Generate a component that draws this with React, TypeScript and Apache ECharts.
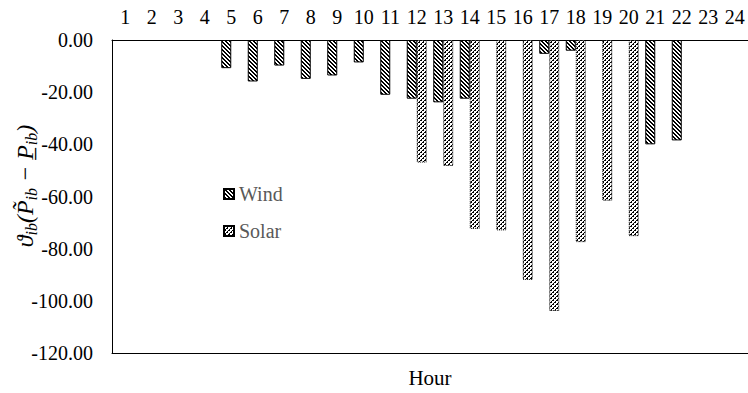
import React, { useEffect, useRef } from "react";
import * as echarts from "echarts";

const hourLabels = ["1","2","3","4","5","6","7","8","9","10","11","12","13","14","15","16","17","18","19","20","21","22","23","24"];
const seriesNames = ["Wind", "Solar"];
const windValues = [null,null,null,null,-10.8,-15.9,-9.8,-14.9,-13.6,-8.6,-21,-22.5,-23.9,-22.5,null,null,-5.3,-4.1,null,null,-40,-38.5,null,null];
const solarValues = [null,null,null,null,null,null,null,null,null,null,null,-47,-48.3,-72.4,-73,-92,-103.9,-77.5,-61.6,-75.2,null,null,null,null];
const yMin = -120;
const yMax = 0;
const yInterval = 20;
const xAxisTitle = "Hour";

const FONT = "Liberation Serif";

function makePattern(kind: "wind" | "solar") {
  const c = document.createElement("canvas");
  c.width = 8;
  c.height = 8;
  const ctx = c.getContext("2d")!;
  ctx.fillStyle = "#fff";
  ctx.fillRect(0, 0, 8, 8);
  ctx.fillStyle = "#000";
  for (let y = 0; y < 8; y++) {
    for (let x = 0; x < 8; x++) {
      let on = false;
      if (kind === "wind") {
        on = (((x - y) % 4) + 4) % 4 < 2;
      } else {
        const d = (x + y) % 4;
        on = d === 0 || (d === 1 && y % 2 === 0);
      }
      if (on) ctx.fillRect(x, y, 1, 1);
    }
  }
  return { image: c, repeat: "repeat", imageWidth: 8, imageHeight: 8 } as any;
}

export default function App() {
  const ref = useRef<HTMLDivElement>(null);
  useEffect(() => {
    if (!ref.current) return;
    const chart = echarts.init(ref.current, undefined, { renderer: "svg" });
    const windPat = makePattern("wind");
    const solarPat = makePattern("solar");
    chart.setOption({
      animation: false,
      backgroundColor: "#fff",
      textStyle: { fontFamily: FONT },
      grid: { left: 112, top: 40, width: 637, height: 315 },
      legend: {
        data: seriesNames,
        orient: "vertical",
        left: 223,
        top: 184,
        padding: 0,
        itemWidth: 10,
        itemHeight: 10,
        itemGap: 17,
        icon: "rect",
        textStyle: { color: "#595959", fontSize: 20, fontFamily: FONT },
      },
      xAxis: [
        {
          type: "category",
          position: "top",
          data: hourLabels,
          axisLine: { onZero: false, lineStyle: { color: "#000", width: 1 } },
          axisTick: { show: false },
          axisLabel: { color: "#000", fontSize: 20, fontFamily: FONT, margin: 13, interval: 0 },
        },
        {
          type: "category",
          position: "bottom",
          data: hourLabels,
          axisLine: { onZero: false, lineStyle: { color: "#000", width: 1 } },
          axisTick: { show: false },
          axisLabel: { show: false },
          name: xAxisTitle,
          nameLocation: "middle",
          nameGap: 14,
          nameTextStyle: { color: "#000", fontSize: 21, fontFamily: FONT },
        },
      ],
      yAxis: {
        type: "value",
        min: yMin,
        max: yMax,
        interval: yInterval,
        axisLine: { show: true, lineStyle: { color: "#000", width: 1 } },
        axisTick: { show: false },
        splitLine: { show: false },
        axisLabel: {
          color: "#000",
          fontSize: 20,
          fontFamily: FONT,
          margin: 19,
          formatter: (v: number) => v.toFixed(2),
        },
      },
      series: [
        {
          name: seriesNames[0],
          type: "bar",
          xAxisIndex: 0,
          data: windValues,
          barWidth: 10,
          barGap: "0%",
          itemStyle: { color: windPat, borderColor: "#000", borderWidth: 1 },
        },
        {
          name: seriesNames[1],
          type: "bar",
          xAxisIndex: 0,
          data: solarValues,
          barWidth: 10,
          barGap: "0%",
          itemStyle: { color: solarPat, borderColor: "#000", borderWidth: 1, borderType: "dotted" },
        },
      ],
      graphic: [
        {
          type: "text",
          x: 25,
          y: 186,
          rotation: Math.PI / 2,
          style: {
            text: "{m|\u03D1}{s|ib}{m|(P\u0303}{s|ib}{m| \u2212 P\u0332}{s|ib}{m|)}",
            align: "center",
            verticalAlign: "middle",
            fill: "#000",
            rich: {
              m: { fontSize: 24, fontStyle: "italic", fontFamily: FONT, lineHeight: 28, verticalAlign: "middle", fill: "#000" },
              s: { fontSize: 16, fontStyle: "italic", fontFamily: FONT, lineHeight: 15, verticalAlign: "bottom", fill: "#000" },
            },
          },
        },
      ],
    });
    return () => chart.dispose();
  }, []);
  return (
    <div
      ref={ref}
      style={{ position: "fixed", left: 0, top: 0, width: 748, height: 393 }}
    />
  );
}
